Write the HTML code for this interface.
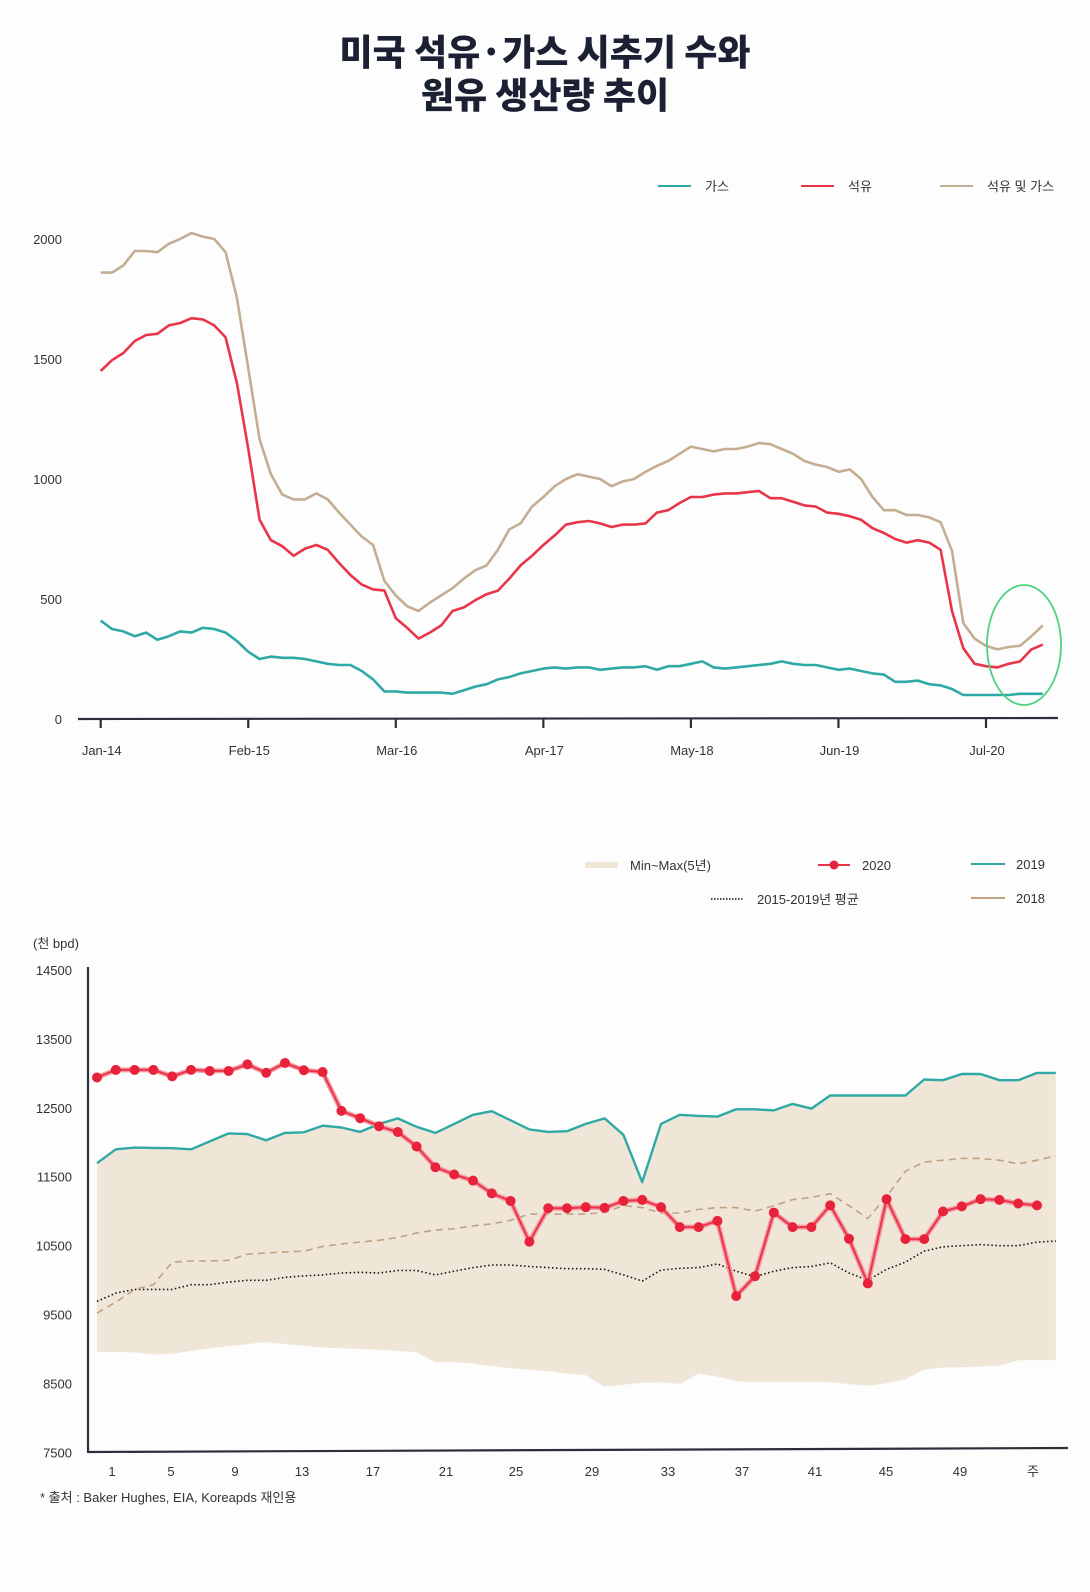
<!DOCTYPE html>
<html><head><meta charset="utf-8">
<style>
html,body{margin:0;padding:0;background:#fdfdfd;}
body{width:1090px;height:1592px;position:relative;overflow:hidden;font-family:"Liberation Sans","Noto Sans CJK KR",sans-serif;}
.title{position:absolute;left:0;width:1090px;text-align:center;font-weight:900;font-size:36px;line-height:44px;color:#1b2033;font-family:"Noto Sans CJK KR","Liberation Sans",sans-serif;}
svg{position:absolute;left:0;top:0;}
text{font-family:"Liberation Sans","Noto Sans CJK KR",sans-serif;fill:#333;}
</style></head>
<body>
<div class="title" style="top:28px;">미국 석유·가스 시추기 수와</div>
<div class="title" style="top:71px;">원유 생산량 추이</div>
<svg id="chart" width="1090" height="1592"></svg>
<script>
// ---------- top chart data ----------
const topTicks = ["Jan-14","Feb-15","Mar-16","Apr-17","May-18","Jun-19","Jul-20"];
const topTickMonths = [0,13,26,39,52,65,78];
const topYTicks = [0,500,1000,1500,2000];
const totalRigs = [1860,1860,1890,1950,1950,1945,1980,2000,2025,2010,2000,1945,1755,1460,1165,1020,935,915,915,940,915,860,810,760,725,575,515,470,450,485,515,545,585,620,640,705,790,815,885,925,970,1000,1020,1010,1000,970,990,1000,1030,1055,1075,1105,1135,1125,1115,1125,1125,1135,1150,1145,1125,1105,1075,1060,1050,1030,1040,1000,925,870,870,850,850,840,820,700,400,335,305,290,300,305,345,390];
const oilRigs = [1450,1495,1525,1575,1600,1605,1640,1650,1670,1665,1640,1590,1400,1125,830,745,720,680,710,725,705,650,600,560,540,535,420,380,335,360,390,450,465,495,520,535,585,640,680,725,765,810,820,825,815,800,810,810,815,860,870,900,925,925,935,940,940,945,950,920,920,905,890,885,860,855,845,830,795,775,750,735,745,735,705,450,295,230,220,215,230,240,290,310];
const gasRigs = [410,375,365,345,360,330,345,365,360,380,375,360,325,280,250,260,255,255,250,240,230,225,225,200,165,115,115,110,110,110,110,105,120,135,145,165,175,190,200,210,215,210,215,215,205,210,215,215,220,205,220,220,230,240,215,210,215,220,225,230,240,230,225,225,215,205,210,200,190,185,155,155,160,145,140,125,100,100,100,100,100,105,105,105];
// ---------- bottom chart data ----------
const weekLabels = ["1","5","9","13","17","21","25","29","33","37","41","45","49","주"];
const weekLabelX = [112,171,235,302,373,446,516,592,668,742,815,886,960,1033];
const botYTicks = [7500,8500,9500,10500,11500,12500,13500,14500];
const prod2020 = [12940,13050,13050,13050,12956,13050,13035,13035,13130,13008,13151,13045,13019,12455,12349,12233,12149,11938,11638,11532,11443,11258,11148,10557,11042,11042,11058,11048,11148,11163,11058,10768,10768,10858,9767,10056,10979,10768,10768,11084,10599,9951,11174,10594,10594,10995,11069,11174,11163,11111,11084];
const prod2019 = [11696,11897,11923,11918,11913,11897,12013,12129,12119,12029,12135,12145,12240,12214,12150,12267,12346,12224,12135,12267,12399,12451,12319,12187,12150,12161,12267,12346,12108,11422,12267,12399,12383,12372,12478,12478,12462,12557,12488,12678,12678,12678,12678,12678,12911,12900,12990,12990,12900,12900,13006,13006];
const prod2018 = [9521,9679,9864,9933,10260,10276,10276,10287,10376,10392,10408,10419,10487,10524,10551,10577,10619,10683,10725,10746,10788,10815,10867,10957,10957,10957,10957,10984,11079,11052,10973,10973,11026,11052,11052,11000,11079,11168,11200,11253,11079,10894,11211,11580,11712,11739,11765,11765,11739,11686,11739,11802];
const avg5yr = [9690,9811,9864,9864,9864,9933,9933,9970,9996,9996,10038,10060,10075,10102,10112,10102,10139,10139,10075,10128,10181,10218,10218,10197,10181,10165,10165,10155,10075,9986,10144,10170,10181,10234,10128,10049,10128,10181,10197,10250,10102,9996,10155,10260,10419,10482,10498,10514,10498,10498,10551,10566];
const bandMax = [11696,11897,11923,11918,11913,11897,12013,12129,12119,12029,12135,12145,12240,12214,12150,12267,12346,12224,12135,12267,12399,12451,12319,12187,12150,12161,12267,12346,12108,11422,12267,12399,12383,12372,12478,12478,12462,12557,12488,12678,12678,12678,12678,12678,12911,12900,12990,12990,12900,12900,13006,13006];
const bandMin = [8951,8955,8950,8920,8930,8970,9010,9040,9070,9099,9070,9045,9020,9010,9000,8990,8970,8951,8808,8808,8790,8750,8720,8700,8676,8640,8620,8450,8480,8510,8518,8491,8640,8600,8530,8518,8518,8518,8518,8518,8490,8465,8500,8560,8700,8729,8735,8745,8755,8835,8835,8835];

const NS="http://www.w3.org/2000/svg";
const svg=document.getElementById('chart');
function mk(tag,attrs,parent){const e=document.createElementNS(NS,tag);for(const k in attrs)e.setAttribute(k,attrs[k]);(parent||svg).appendChild(e);return e;}
function txt(s,x,y,size,anchor,parent){const t=mk('text',{x:x,y:y,'font-size':size,'text-anchor':anchor||'start'},parent);t.textContent=s;return t;}

// top axes
const tx=m=>100.7+m*11.35;
const ty=v=>719-v*0.24;
const gTop=mk('g',{});


topYTicks.forEach(v=>{const t=txt(String(v),62,ty(v)+5,13,'end',gTop);

});
const ax=mk('line',{x1:78,y1:719,x2:1058,y2:718,stroke:'#2b2f3a','stroke-width':2.2},gTop);


topTickMonths.forEach((m,i)=>{const l=mk('line',{x1:tx(m),y1:719,x2:tx(m),y2:728,stroke:'#2b2f3a','stroke-width':2.2},gTop);


const t=txt(topTicks[i],tx(m)+1,755,13,'middle',gTop);

});
function line(arr,xf,yf,color,w,parent,name,dash){const d=arr.map((v,i)=>(i?'L':'M')+xf(i).toFixed(1)+' '+yf(v).toFixed(1)).join(' ');
const p=mk('path',{d:d,fill:'none',stroke:color,'stroke-width':w,'stroke-linejoin':'round'},parent);if(dash)p.setAttribute('stroke-dasharray',dash);

return p;}
line(totalRigs,tx,ty,'#c4ae93',2.6,gTop,'total-rigs-line');
line(oilRigs,tx,ty,'#e8354a',2.6,gTop,'oil-rigs-line');
line(gasRigs,tx,ty,'#2fa9a5',2.6,gTop,'gas-rigs-line');
const el=mk('ellipse',{cx:1024,cy:645,rx:37,ry:60,fill:'none',stroke:'#4fd083','stroke-width':1.8},gTop);


// top legend
[['#2fa9a5','가스',658],['#e8354a','석유',801],['#c4ae93','석유 및 가스',940]].forEach(a=>{
const l=mk('line',{x1:a[2],y1:186,x2:a[2]+33,y2:186,stroke:a[0],'stroke-width':2},gTop);


const t=txt(a[1],a[2]+47,191,13,'start',gTop);

});

// bottom chart
const bx=w=>97+w*18.8;
const by=v=>970+(14500-v)*0.0689;
const gB=mk('g',{});


let bd='M'+bandMax.map((v,i)=>bx(i).toFixed(1)+' '+by(v).toFixed(1)).join(' L');
for(let i=bandMin.length-1;i>=0;i--)bd+=' L'+bx(i).toFixed(1)+' '+by(bandMin[i]).toFixed(1);
const band=mk('path',{d:bd+' Z',fill:'#f0e6d8'},gB);


line(avg5yr,bx,by,'#111',1.6,gB,'avg-2015-2019-line','1.5 2.5');
line(prod2018,bx,by,'#bfa283',1.6,gB,'prod-2018-line','7 5');
line(prod2019,bx,by,'#2fa9a5',2.4,gB,'prod-2019-line');
line(prod2020,bx,by,'#f59aa3',5,gB,'prod-2020-glow');
line(prod2020,bx,by,'#e8354a',2,gB,'prod-2020-line');
prod2020.forEach((v,i)=>{const c=mk('circle',{cx:bx(i),cy:by(v),r:5,fill:'#e8223a'},gB);

});
const ya=mk('line',{x1:88,y1:967,x2:88,y2:1453,stroke:'#2b2f3a','stroke-width':2.2},gB);


const xa=mk('line',{x1:88,y1:1452,x2:1068,y2:1448,stroke:'#2b2f3a','stroke-width':2.2},gB);


botYTicks.forEach(v=>{const t=txt(String(v),72,by(v)+5,13,'end',gB);

});
weekLabels.forEach((s,i)=>{const t=txt(s,weekLabelX[i],1476,13,'middle',gB);

});
const unit=txt('(천 bpd)',33,948,13,'start',gB);


const src=txt('* 출처 : Baker Hughes, EIA, Koreapds 재인용',40,1502,13,'start',gB);


// bottom legend
const lg=mk('g',{},gB);


const sw=mk('rect',{x:585,y:862,width:33,height:6,fill:'#f0e6d8'},lg);


const lbls=[['Min~Max(5년)',630,870],['2020',862,870],['2019',1016,869],['2015-2019년 평균',757,904],['2018',1016,903]];
lbls.forEach(a=>{const t=txt(a[0],a[1],a[2],13,'start',lg);

});
const l1=mk('line',{x1:818,y1:865,x2:850,y2:865,stroke:'#e8354a','stroke-width':2},lg);


const c1=mk('circle',{cx:834,cy:865,r:4.5,fill:'#e8223a'},lg);


const l2=mk('line',{x1:971,y1:864,x2:1005,y2:864,stroke:'#2fa9a5','stroke-width':2},lg);


const l3=mk('line',{x1:711,y1:899,x2:744,y2:899,stroke:'#111','stroke-width':1.5,'stroke-dasharray':'1.5 1.5'},lg);


const l4=mk('line',{x1:971,y1:898,x2:1005,y2:898,stroke:'#bfa283','stroke-width':2},lg);


</script>
</body></html>
